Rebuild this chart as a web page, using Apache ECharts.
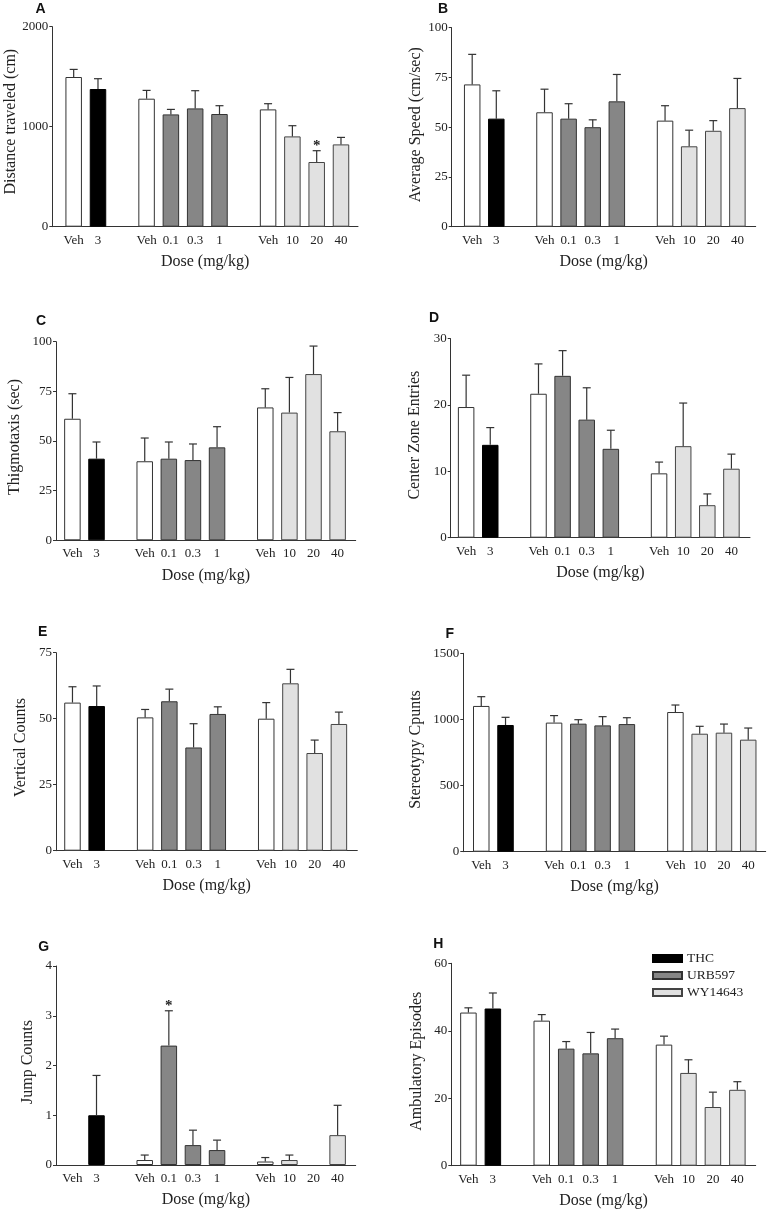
<!DOCTYPE html>
<html><head><meta charset="utf-8">
<script src="https://cdn.jsdelivr.net/npm/echarts@6/dist/echarts.min.js"></script>
<style>html,body{margin:0;padding:0;background:#fff}#c{width:768px;height:1211px}</style>
</head><body><div id="c"></div>
<script>
// ---- categories (12 slots, blanks separate the three treatment groups) ----
const doseLabels = ['Veh','3','','Veh','0.1','0.3','1','','Veh','10','20','40'];
const slotGroup  = ['Veh','THC','','Veh','URB597','URB597','URB597','','Veh','WY14643','WY14643','WY14643'];
const legendNames = ['THC','URB597','WY14643'];

// ---- A: Distance traveled (cm) ----
const distMean = [1497,1377,null,1280,1123,1183,1127,null,1173,903,647,823];
const distSem  = [76,103,null,83,50,177,83,null,57,107,113,70];
const distSig  = [0,0,0,0,0,0,0,0,0,0,1,0];
// ---- B: Average Speed (cm/sec) ----
const speedMean = [71.5,54.3,null,57.5,54.3,50.0,63.0,null,53.3,40.4,48.2,59.6];
const speedSem  = [15.1,14.0,null,11.6,7.5,3.7,13.5,null,7.5,8.1,5.1,14.9];
const speedSig  = [0,0,0,0,0,0,0,0,0,0,0,0];
// ---- C: Thigmotaxis (sec) ----
const thigMean = [61.2,41.1,null,39.8,41.1,40.4,46.8,null,66.9,64.3,83.7,54.9];
const thigSem  = [12.6,8.4,null,11.7,8.4,8.1,10.4,null,9.4,17.7,14.1,9.4];
const thigSig  = [0,0,0,0,0,0,0,0,0,0,0,0];
// ---- D: Center Zone Entries ----
const centerMean = [19.7,14.0,null,21.7,24.4,17.8,13.4,null,9.7,13.8,4.9,10.4];
const centerSem  = [4.8,2.6,null,4.5,3.8,4.8,2.8,null,1.7,6.5,1.7,2.2];
const centerSig  = [0,0,0,0,0,0,0,0,0,0,0,0];
// ---- E: Vertical Counts ----
const vertMean = [56.1,54.8,null,50.5,56.6,39.1,51.8,null,50.0,63.4,37.0,48.0];
const vertSem  = [6.0,7.6,null,3.0,4.6,9.0,2.7,null,6.1,5.3,4.9,4.5];
const vertSig  = [0,0,0,0,0,0,0,0,0,0,0,0];
// ---- F: Stereotypy Cpunts ----
const stereoMean = [1102,958,null,976,968,955,965,null,1056,892,900,847];
const stereoSem  = [70,58,null,53,30,66,48,null,53,56,65,88];
const stereoSig  = [0,0,0,0,0,0,0,0,0,0,0,0];
// ---- G: Jump Counts ----
const jumpMean = [0,1.0,null,0.1,2.4,0.4,0.3,null,0.07,0.1,0,0.6];
const jumpSem  = [0,0.8,null,0.1,0.7,0.3,0.2,null,0.08,0.1,0,0.6];
const jumpSig  = [0,0,0,0,1,0,0,0,0,0,0,0];
// ---- H: Ambulatory Episodes ----
const ambMean = [45.4,46.6,null,43.0,34.7,33.3,37.8,null,35.9,27.5,17.4,22.5];
const ambSem  = [1.4,4.6,null,1.8,2.1,6.2,2.7,null,2.5,3.9,4.4,2.4];
const ambSig  = [0,0,0,0,0,0,0,0,0,0,0,0];

// ---- y axis ranges / ticks ----
const yMaxes  = [2000,100,100,30,75,1500,4,60];
const ySteps  = [1000,25,25,10,25,500,1,20];

const panels = [
  {letter:'A', yName:'Distance traveled (cm)', mean:distMean, sem:distSem, sig:distSig},
  {letter:'B', yName:'Average Speed (cm/sec)', mean:speedMean, sem:speedSem, sig:speedSig},
  {letter:'C', yName:'Thigmotaxis (sec)', mean:thigMean, sem:thigSem, sig:thigSig},
  {letter:'D', yName:'Center Zone Entries', mean:centerMean, sem:centerSem, sig:centerSig},
  {letter:'E', yName:'Vertical Counts', mean:vertMean, sem:vertSem, sig:vertSig},
  {letter:'F', yName:'Stereotypy Cpunts', mean:stereoMean, sem:stereoSem, sig:stereoSig},
  {letter:'G', yName:'Jump Counts', mean:jumpMean, sem:jumpSem, sig:jumpSig},
  {letter:'H', yName:'Ambulatory Episodes', mean:ambMean, sem:ambSem, sig:ambSig}
];

// ---- layout (pixels) ----
const layout = [
  {left:52.3, width:305.7, top:26.7, height:200, xmin:-0.88, xmax:11.70, ygap:32, yshift:10, lx:35.5, ly:2},
  {left:451.7, width:304, top:27.7, height:199, xmin:-0.85, xmax:11.76, ygap:28, yshift:5, lx:438, ly:2},
  {left:56, width:299.7, top:341.7, height:198.6, xmin:-0.68, xmax:11.75, ygap:33, yshift:8, lx:36, ly:314},
  {left:450.7, width:299.3, top:338.7, height:199, xmin:-0.64, xmax:11.77, ygap:27.5, yshift:6, lx:429, ly:311},
  {left:56, width:301.3, top:652.7, height:198, xmin:-0.68, xmax:11.76, ygap:27, yshift:8.5, lx:38, ly:625.5},
  {left:463.3, width:302.4, top:653.3, height:198.4, xmin:-0.74, xmax:11.72, ygap:39.5, yshift:6, lx:445.5, ly:627},
  {left:56, width:299.7, top:966, height:199, xmin:-0.68, xmax:11.75, ygap:20.5, yshift:7, lx:38.3, ly:940.5},
  {left:451.3, width:304.4, top:963.3, height:202.4, xmin:-0.70, xmax:11.75, ygap:27, yshift:6.5, lx:433.3, ly:937}
];

const fills = {Veh:'#ffffff', THC:'#000000', URB597:'#868686', WY14643:'#e1e1e1'};
const borders = {Veh:'#333333', THC:'#000000', URB597:'#333333', WY14643:'#444444'};
const SERIF = '"Liberation Serif","Times New Roman",serif';
const labelSlots = doseLabels.map((l,i)=>l?i:-1).filter(i=>i>=0);

function renderErr(params, api){
  const x = api.value(0), m = api.value(1), t = api.value(2), s = api.value(3);
  const p0 = api.coord([x,m]), p1 = api.coord([x,t]);
  const ch = [];
  if (t > m) {
    ch.push({type:'line', shape:{x1:p0[0],y1:p0[1],x2:p1[0],y2:p1[1]}, style:{stroke:'#333',lineWidth:1.2}});
    ch.push({type:'line', shape:{x1:p1[0]-4,y1:p1[1],x2:p1[0]+4,y2:p1[1]}, style:{stroke:'#333',lineWidth:1.2}});
  }
  if (s) ch.push({type:'text', style:{text:'*', x:p1[0], y:p1[1]-5, align:'center', verticalAlign:'middle', font:'bold 15px '+SERIF, fill:'#222'}});
  return {type:'group', children:ch};
}

const grids=[], xAxes=[], yAxes=[], series=[], titles=[];
panels.forEach((p,i)=>{
  const L = layout[i];
  grids.push({left:L.left, top:L.top, width:L.width, height:L.height, containLabel:false});
  titles.push({text:p.letter, left:L.lx, top:L.ly, padding:0, textStyle:{fontFamily:'"Liberation Sans",Arial,sans-serif', fontWeight:'bold', fontSize:14, color:'#111'}});
  xAxes.push({
    type:'value', gridIndex:i, min:L.xmin, max:L.xmax,
    name:'Dose (mg/kg)', nameLocation:'middle', nameGap:27,
    nameTextStyle:{fontFamily:SERIF, fontSize:16, color:'#222'},
    axisLine:{show:true, onZero:false, lineStyle:{color:'#333', width:1}},
    axisTick:{show:false}, splitLine:{show:false},
    axisLabel:{customValues:labelSlots, formatter:v=>doseLabels[Math.round(v)], fontFamily:SERIF, fontSize:13, color:'#222', margin:7}
  });
  yAxes.push({
    type:'value', gridIndex:i, min:0, max:yMaxes[i], interval:ySteps[i],
    name:p.yName, nameLocation:'middle', nameGap:L.ygap,
    nameTextStyle:{fontFamily:SERIF, fontSize:16, color:'#222', padding:[0,0,0,L.yshift]},
    axisLine:{show:true, onZero:false, lineStyle:{color:'#333', width:1}},
    axisTick:{show:true, length:3, lineStyle:{color:'#333'}},
    splitLine:{show:false},
    axisLabel:{formatter:v=>String(v), fontFamily:SERIF, fontSize:13, color:'#222', margin:4}
  });
  ['Veh','THC','URB597','WY14643'].forEach(g=>{
    const data=[];
    slotGroup.forEach((sg,k)=>{ if (sg===g && p.mean[k]>0) data.push([k, p.mean[k]]); });
    series.push({type:'bar', name:g, xAxisIndex:i, yAxisIndex:i, barWidth:16.5, barGap:'-100%',
      data, silent:true, animation:false,
      itemStyle:{color:fills[g], borderColor:borders[g], borderWidth:1}});
  });
  const ed=[];
  p.mean.forEach((m,k)=>{ if (m!==null) ed.push([k, m, m + p.sem[k], p.sig[k]]); });
  series.push({type:'custom', xAxisIndex:i, yAxisIndex:i, data:ed, renderItem:renderErr, silent:true, animation:false, z:3});
});

const chart = echarts.init(document.getElementById('c'), null, {renderer:'canvas'});
chart.setOption({
  animation:false,
  backgroundColor:'#fff',
  title:titles,
  grid:grids, xAxis:xAxes, yAxis:yAxes, series,
  legend:{data:legendNames, orient:'vertical', left:647, top:946.5, itemWidth:29, itemHeight:7, itemGap:3,
    icon:'rect', selectedMode:false,
    textStyle:{fontFamily:SERIF, fontSize:13.5, color:'#222'}}
});
</script></body></html>
